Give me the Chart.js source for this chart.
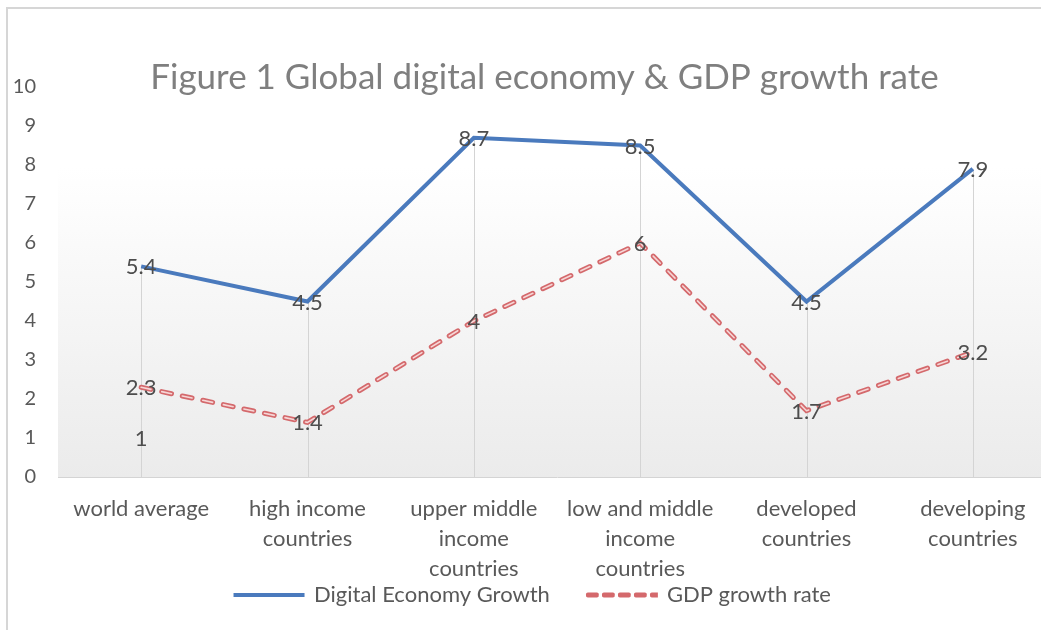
<!DOCTYPE html>
<html>
<head>
<meta charset="utf-8">
<script src="https://cdn.jsdelivr.net/npm/chart.js@4.4.1/dist/chart.umd.min.js"></script>
<style>
  html, body { margin: 0; padding: 0; background: #fff; overflow: hidden; }
  #frame { position: absolute; left: 6px; top: 7px; width: 1100px; height: 640px;
           border-left: 2px solid #d6d6d6; border-top: 2px solid #d6d6d6; }
  #wrap { position: absolute; left: 0; top: 0; width: 1062px; height: 630px; }
</style>
</head>
<body>
<div id="frame"></div>
<div id="wrap"><canvas id="chart"></canvas></div>
<script>
// values
const categories = [
    ["world average"],
    ["high income", "countries"],
    ["upper middle", "income", "countries"],
    ["low and middle", "income", "countries"],
    ["developed", "countries"],
    ["developing", "countries"]];
const digitalGrowth = [5.4, 4.5, 8.7, 8.5, 4.5, 7.9];
const gdpGrowth = [2.3, 1.4, 4, 6, 1.7, 3.2];
const strayLabel = [1, null, null, null, null, null];
const yTicks = [0, 1, 2, 3, 4, 5, 6, 7, 8, 9, 10];

const FONT = "Lato, 'Open Sans', sans-serif";
const BLUE = '#4a7abd';
const RED = '#d4696c';
const TEXT = '#595959';

// light gradient behind the lower part of the plot
const plotBackground = {
    id: 'plotBackground',
    beforeDraw(chart) {
        const {ctx, chartArea, scales} = chart;
        const top = scales.y.getPixelForValue(7.95);
        const g = ctx.createLinearGradient(0, top, 0, chartArea.bottom);
        g.addColorStop(0, '#ffffff');
        g.addColorStop(1, '#ebebeb');
        ctx.save();
        ctx.fillStyle = g;
        ctx.fillRect(chartArea.left, top, chartArea.right - chartArea.left, chartArea.bottom - top);
        ctx.restore();
    }
};

// pull the legend up under the category labels, nudge the title right
const nudge = {
    id: 'nudge',
    afterLayout(chart) {
        const lg = chart.legend;
        lg.top = chart.scales.x.bottom - 39;
        lg.height = 80;
        lg.bottom = lg.top + lg.height;
        chart.titleBlock.left += 23;
    }
};

// vertical drop lines from the highest point down to the axis
const dropLines = {
    id: 'dropLines',
    beforeDatasetsDraw(chart) {
        const {ctx, chartArea} = chart;
        const meta = chart.getDatasetMeta(0);
        ctx.save();
        ctx.strokeStyle = '#d4d4d4';
        ctx.lineWidth = 1;
        meta.data.forEach((pt) => {
            const x = Math.round(pt.x) + 0.5;
            ctx.beginPath();
            ctx.moveTo(x, pt.y);
            ctx.lineTo(x, chartArea.bottom);
            ctx.stroke();
        });
        ctx.restore();
    }
};

// light core inside the red dashes, then the value labels
const dashCore = {
    id: 'dashCore',
    afterDatasetsDraw(chart) {
        const {ctx} = chart;
        const meta = chart.getDatasetMeta(1);
        ctx.save();
        ctx.setLineDash([10, 11]);
        ctx.lineCap = 'round';
        ctx.lineJoin = 'round';
        ctx.strokeStyle = '#f6d6d6';
        ctx.lineWidth = 1.6;
        ctx.beginPath();
        meta.data.forEach((pt, i) => {
            if (i === 0) ctx.moveTo(pt.x, pt.y); else ctx.lineTo(pt.x, pt.y);
        });
        ctx.stroke();
        ctx.restore();

        ctx.save();
        ctx.font = '22px ' + FONT;
        ctx.fillStyle = '#4d4d4d';
        ctx.textAlign = 'center';
        ctx.textBaseline = 'middle';
        chart.data.datasets.forEach((ds, di) => {
            const m = chart.getDatasetMeta(di);
            ds.data.forEach((v, i) => {
                if (v === null) return;
                const pt = m.data[i];
                ctx.fillText(String(v), pt.x, pt.y + 1);
            });
        });
        ctx.restore();
    }
};

new Chart(document.getElementById('chart'), {
    type: 'line',
    data: {
        labels: categories,
        datasets: [{
            label: 'Digital Economy Growth',
            data: digitalGrowth,
            borderColor: BLUE,
            backgroundColor: BLUE,
            borderWidth: 4,
            pointRadius: 0,
            tension: 0
        }, {
            label: 'GDP growth rate',
            data: gdpGrowth,
            borderColor: RED,
            backgroundColor: RED,
            borderWidth: 5,
            borderDash: [10, 11],
            borderCapStyle: 'round',
            pointRadius: 0,
            tension: 0
        }, {
            label: 'stray',
            data: strayLabel,
            showLine: false,
            pointRadius: 0,
            borderColor: 'transparent',
            backgroundColor: 'transparent'
        }]
    },
    options: {
        responsive: true,
        maintainAspectRatio: false,
        animation: false,
        layout: { padding: { left: 10, right: 6, top: 0, bottom: 15 } },
        plugins: {
            title: {
                display: true,
                text: 'Figure 1 Global digital economy & GDP growth rate',
                color: '#7f7f7f',
                font: { family: FONT, size: 35, weight: 'normal' },
                padding: { top: 57, bottom: -12 }
            },
            legend: {
                position: 'bottom',
                maxHeight: 30,
                labels: {
                    color: TEXT,
                    font: { family: FONT, size: 22 },
                    boxWidth: 68,
                    boxHeight: 1,
                    padding: 38,
                    generateLabels(chart) {
                        return [{
                            text: 'Digital Economy Growth',
                            fillStyle: BLUE, strokeStyle: BLUE, lineWidth: 3,
                            fontColor: TEXT, datasetIndex: 0
                        }, {
                            text: 'GDP growth rate',
                            fillStyle: 'transparent', strokeStyle: RED, lineWidth: 4,
                            lineDash: [9, 7], lineCap: 'round',
                            fontColor: TEXT, datasetIndex: 1
                        }];
                    }
                }
            },
            tooltip: { enabled: false }
        },
        scales: {
            x: {
                offset: true,
                grid: { display: false, drawTicks: false },
                border: { display: true, color: '#d4d4d4', width: 1 },
                ticks: {
                    color: TEXT,
                    font: { family: FONT, size: 22, lineHeight: 1.36 },
                    padding: 17,
                    maxRotation: 0,
                    autoSkip: false
                },
                afterFit(scale) { scale.height = 108; }
            },
            y: {
                min: 0,
                max: 10,
                afterBuildTicks(scale) { scale.ticks = yTicks.map(v => ({value: v})); },
                grid: { display: false, drawTicks: false },
                border: { display: false },
                ticks: {
                    color: TEXT,
                    font: { family: FONT, size: 20 },
                    padding: 22
                },
                afterFit(scale) { scale.width = 48; }
            }
        }
    },
    plugins: [plotBackground, nudge, dropLines, dashCore]
});
</script>
</body>
</html>
